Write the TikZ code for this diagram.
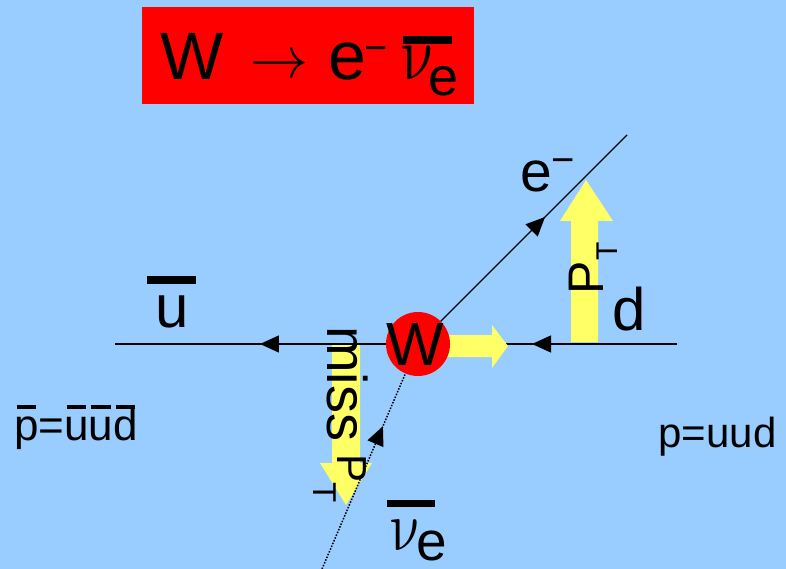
\documentclass[tikz,border=0pt]{standalone}
\usepackage{fontspec}
\setmainfont{Liberation Sans}
\usetikzlibrary{arrows.meta,decorations.markings}
\definecolor{bgblue}{HTML}{99CCFF}
\definecolor{ptyellow}{HTML}{FFFF66}
\newcommand\fsz[1]{\fontsize{#1}{#1}\selectfont}
\newcommand\ovl[1]{\setbox0\hbox{#1}\rlap{\hbox to\wd0{\hss\rule[0.7em]{0.8\wd0}{0.09em}\hss}}\box0}
\begin{document}
\begin{tikzpicture}[x=1pt,y=-1pt,
  every node/.style={inner sep=0pt,outer sep=0pt},
  txt/.style={anchor=base},
  upright/.style={anchor=base,xslant=-0.2},
  fermion/.style={line width=1.4pt,black},
  tipmark/.style={postaction={decorate},decoration={markings,
     mark=at position #1 with {\arrow{Triangle[length=19pt,width=17pt]}}}},
  twotips/.style={postaction={decorate},decoration={markings,
     mark=at position 0.258 with {\arrow{Triangle[length=19pt,width=17pt]}},
     mark=at position 0.742 with {\arrow{Triangle[length=19pt,width=17pt]}}}},
  bigarrow/.style={fill=ptyellow},
  barfill/.style={fill=black}]
\useasboundingbox (0,0) rectangle (786,569);
\fill[bgblue] (0,0) rectangle (786,569);

% title
\node[fill=red,minimum width=332pt,minimum height=97pt] (title) at (308,55.5) {};
\node[txt] (tW) at (192.5,80) {\fsz{67}W};
\node[txt] (tarr) at (279,78) {\scalebox{5.8}{$\rightarrow$}};
\node[txt] (te) at (347,80) {\fsz{68}e};
\node[txt] (tminus) at (376,62) {\fsz{40}−};
\node[upright] (tnu) at (422,80) {\scalebox{6.2}[7.6]{$\nu$}};
\node[txt] (tsub) at (444,96) {\fsz{54}e};
\fill[barfill] (403,36) rectangle (452,44);

% coordinates of free line ends
\coordinate (L) at (115,344);
\coordinate (R) at (677,344);
\coordinate (E) at (627,135);
\coordinate (N) at (322,569);

% quark line
\draw[fermion,twotips] (R) -- (L);

% yellow momentum arrows
\fill[bigarrow] (430,335) -- (492,335) -- (492,325) -- (508,346) -- (492,368) -- (492,357) -- (430,357) -- cycle;
\fill[bigarrow] (571,342) -- (571,221) -- (560,221) -- (586,180) -- (613,221) -- (598,221) -- (598,342) -- cycle;
\fill[bigarrow] (332,345) -- (332,463) -- (320,463) -- (346,505) -- (372,463) -- (360,463) -- (360,345) -- cycle;

% W boson
\node[circle,fill=red,minimum size=64pt] (w) at (418,344) {};
\node[txt] (wlab) at (415,365) {\fsz{61}W};

% electron and neutrino
\draw[fermion,tipmark=0.56] (w) -- (E);
\draw[fermion,line width=1.5pt,dash pattern=on 1.5pt off 1.5pt,tipmark=0.73] (N) -- (w);

% labels
\node[txt] (ubar) at (172.5,327) {\fsz{60}u};
\fill[barfill] (147,276) rectangle (196,284);
\node[txt] (elab) at (536,192) {\fsz{57}e};
\node[txt] (eminus) at (563.5,174) {\fsz{40}−};
\node[txt] (dlab) at (629,330) {\fsz{60}d};
\node[upright] (nulab) at (409,550) {\scalebox{5.6}[7]{$\nu$}};
\node[txt] (nusub) at (431.5,560) {\fsz{55}e};
\fill[barfill] (387,500) rectangle (435,507);
\node[txt] (pbar) at (76,440) {\fsz{44}\ovl{p}=\ovl{u}\ovl{u}\ovl{d}};
\node[txt] (p) at (717.5,447) {\fsz{42}p=uud};

% rotated momentum labels
\node[anchor=base west,rotate=90] (pt) at (603,294) {\fsz{50}P\raisebox{-14pt}{\fsz{30}T}};
\node[anchor=base west,rotate=-90] (miss) at (327,326) {\fsz{56}miss};
\node[anchor=base west,rotate=-90] (misspt) at (337,454) {\fsz{42}P\raisebox{-24pt}{\fsz{33}T}};
\end{tikzpicture}
\end{document}
